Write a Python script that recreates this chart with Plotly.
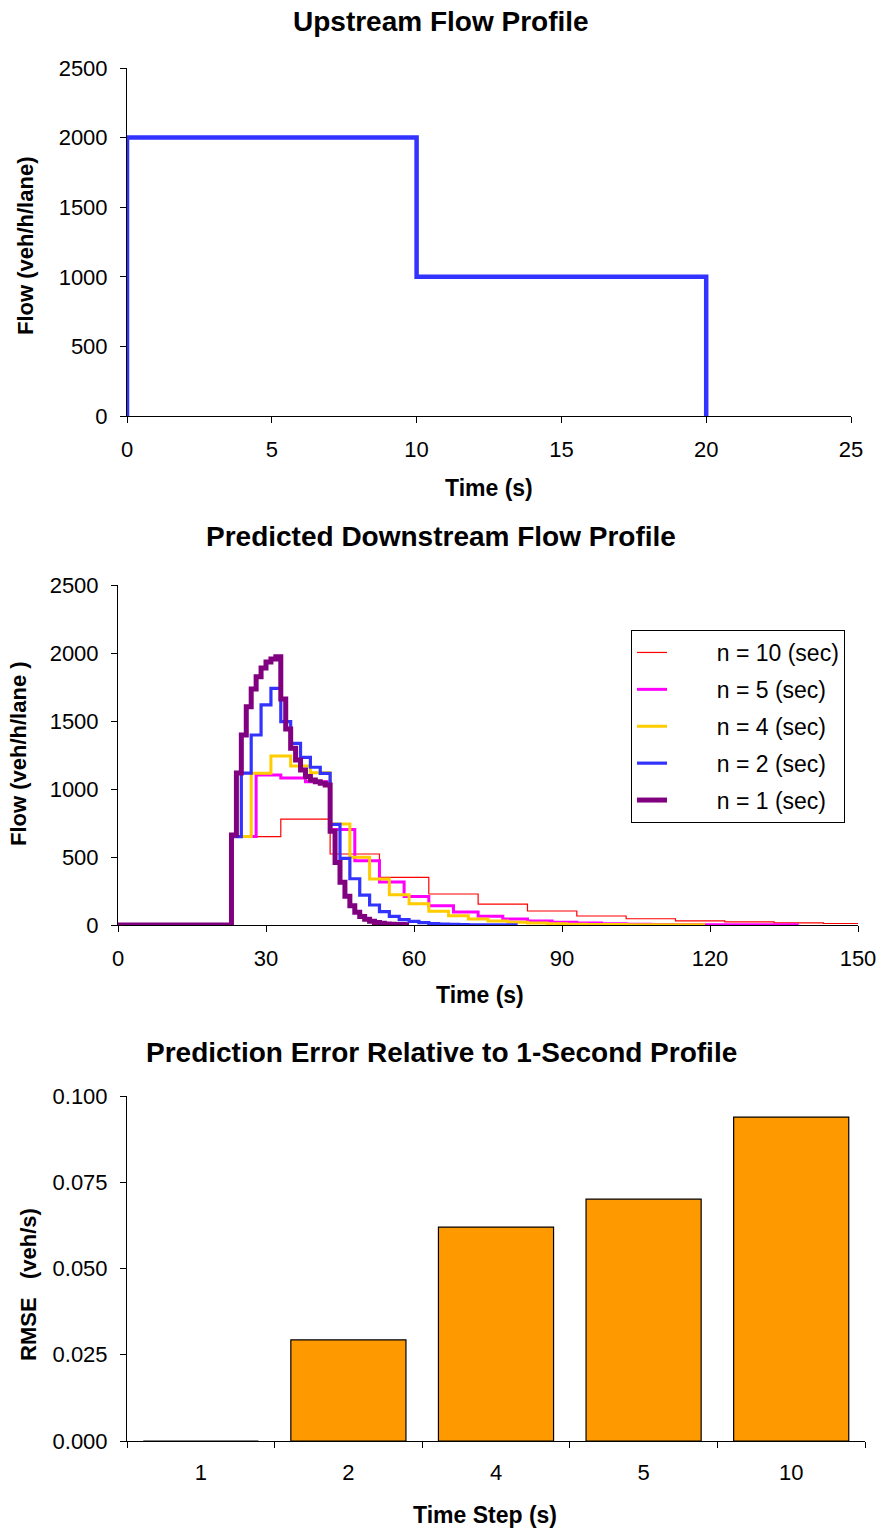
import plotly.graph_objects as go

W, H = 883, 1531

# ---------------- data ----------------
# Upstream profile
up_times = [0, 0, 10, 20]
up_flow = [0, 2000, 1000, 0]

# Predicted downstream profiles: step start times and step values (veh/h/lane)
n1_times = list(range(23, 59, 1))
n1_flow = [662, 1117, 1397, 1605, 1735, 1826, 1889, 1933, 1956, 1973,
           1662, 1441, 1299, 1213, 1140, 1091, 1066, 1054, 1042, 1030,
           690, 460, 315, 212, 142, 93, 62, 42, 28, 19, 13, 8, 6, 4, 3, 2]
n1_end = 59

n2_times = list(range(23, 81, 2))
n2_flow = [650, 1117, 1397, 1618, 1740, 1495, 1336, 1233, 1160, 1115,
           740, 490, 340, 220, 147, 98, 63, 40, 26, 17, 11, 7, 5, 3, 2, 2, 1, 1, 1]
n2_end = 81

n4_times = list(range(23, 119, 4))
n4_flow = [650, 1115, 1243, 1169, 1120, 743, 498, 338, 222, 157, 102, 68,
           45, 30, 20, 14, 9, 6, 4, 3, 2, 1, 1, 1]
n4_end = 119

n5_times = list(range(23, 138, 5))
n5_flow = [650, 1103, 1080, 1054, 703, 473, 316, 210, 142, 96, 65, 44,
           30, 20, 14, 9, 6, 4, 3, 2, 1, 1, 1]
n5_end = 138

n10_times = list(range(23, 150, 10))
n10_flow = [650, 779, 522, 350, 228, 154, 103, 66, 46, 31, 23, 16, 11]
n10_end = 150

# RMSE bars
steps = ["1", "2", "4", "5", "10"]
rmse = [0.0, 0.0293, 0.0620, 0.0701, 0.0939]

# ---------------- helpers ----------------
FONT = "Arial, Liberation Sans, sans-serif"
PAD = "\u00a0" * 7


def px_x(p):
    return p / W


def px_y(p):
    return 1 - p / H


fig = go.Figure()

# Top chart
fig.add_trace(go.Scatter(x=up_times, y=up_flow, mode="lines", line_shape="hv",
                         line=dict(color="#3333FF", width=4.5),
                         xaxis="x", yaxis="y", showlegend=False))

# Middle chart
series = [
    ("n = 10 (sec)", n10_times, n10_flow, n10_end, "#FF0000", 1.2),
    ("n = 5 (sec)", n5_times, n5_flow, n5_end, "#FF00FF", 3),
    ("n = 4 (sec)", n4_times, n4_flow, n4_end, "#FFCC00", 3),
    ("n = 2 (sec)", n2_times, n2_flow, n2_end, "#3333FF", 3.2),
    ("n = 1 (sec)", n1_times, n1_flow, n1_end, "#800080", 5),
]
for name, t, v, end, col, w in series:
    xs = [0] + t + [end]
    ys = [0] + v + [v[-1]]
    fig.add_trace(go.Scatter(x=xs, y=ys, mode="lines", line_shape="hv",
                             name=PAD + name, legendgroup=name,
                             line=dict(color=col, width=w),
                             xaxis="x2", yaxis="y2"))

# Bottom chart
fig.add_trace(go.Bar(x=steps, y=rmse, marker=dict(color="#FF9900",
                     line=dict(color="black", width=1.2)),
                     xaxis="x3", yaxis="y3", showlegend=False))

axis_common = dict(showline=True, linecolor="black", linewidth=1,
                   ticks="outside", ticklen=6, tickcolor="black",
                   showgrid=False, zeroline=False, automargin=False,
                   tickfont=dict(family=FONT, size=22, color="black"))

fig.update_layout(
    width=W, height=H, autosize=False,
    margin=dict(l=0, r=0, t=0, b=0, pad=0, autoexpand=False),
    paper_bgcolor="white", plot_bgcolor="white",
    font=dict(family=FONT, color="black"),
    xaxis=dict(axis_common, domain=[px_x(127), px_x(851)], range=[0, 25],
               dtick=5, anchor="y", ticklabelstandoff=8),
    yaxis=dict(axis_common, domain=[px_y(416), px_y(68)], range=[0, 2500],
               dtick=500, anchor="x", ticklabelstandoff=8),
    xaxis2=dict(axis_common, domain=[px_x(118), px_x(858)], range=[0, 150],
                dtick=30, anchor="y2", ticklabelstandoff=8),
    yaxis2=dict(axis_common, domain=[px_y(925), px_y(585)], range=[0, 2500],
                dtick=500, anchor="x2", ticklabelstandoff=8),
    xaxis3=dict(axis_common, domain=[px_x(127), px_x(865)], type="category",
                tickson="boundaries", anchor="y3", ticklabelstandoff=12),
    yaxis3=dict(axis_common, domain=[px_y(1441), px_y(1096)], range=[0, 0.1],
                dtick=0.025, tickformat=".3f", anchor="x3", ticklabelstandoff=8),
    bargap=0.22,
    legend=dict(x=px_x(631), y=px_y(630), xanchor="left", yanchor="top",
                bordercolor="black", borderwidth=1, bgcolor="white",
                font=dict(family=FONT, size=23, color="black"),
                tracegroupgap=4, traceorder="grouped"),
)

anns = [
    ("<b>Upstream Flow Profile</b>", 441, 22, 28, 0),
    ("<b>Time (s)</b>", 489, 488, 23, 0),
    ("<b>Flow (veh/h/lane)</b>", 25, 246, 22, -90),
    ("<b>Predicted Downstream Flow Profile</b>", 441, 537, 28, 0),
    ("<b>Time (s)</b>", 480, 995, 23, 0),
    ("<b>Flow (veh/h/lane )</b>", 18, 754, 22, -90),
    ("<b>Prediction Error Relative to 1-Second Profile</b>", 441, 1052, 28, 0),
    ("<b>Time Step (s)</b>", 485, 1515, 23, 0),
    ("<b>RMSE\u00a0\u00a0\u00a0(veh/s)</b>", 28, 1285, 22, -90),
]
for text, x, y, size, ang in anns:
    fig.add_annotation(text=text, x=px_x(x), y=px_y(y), xref="paper", yref="paper",
                       showarrow=False, textangle=ang, xanchor="center", yanchor="middle",
                       font=dict(family=FONT, size=size, color="black"))

fig.write_html("out.html", config={"displayModeBar": False},
               post_script="document.body.style.margin='0';document.body.style.overflow='hidden';")
